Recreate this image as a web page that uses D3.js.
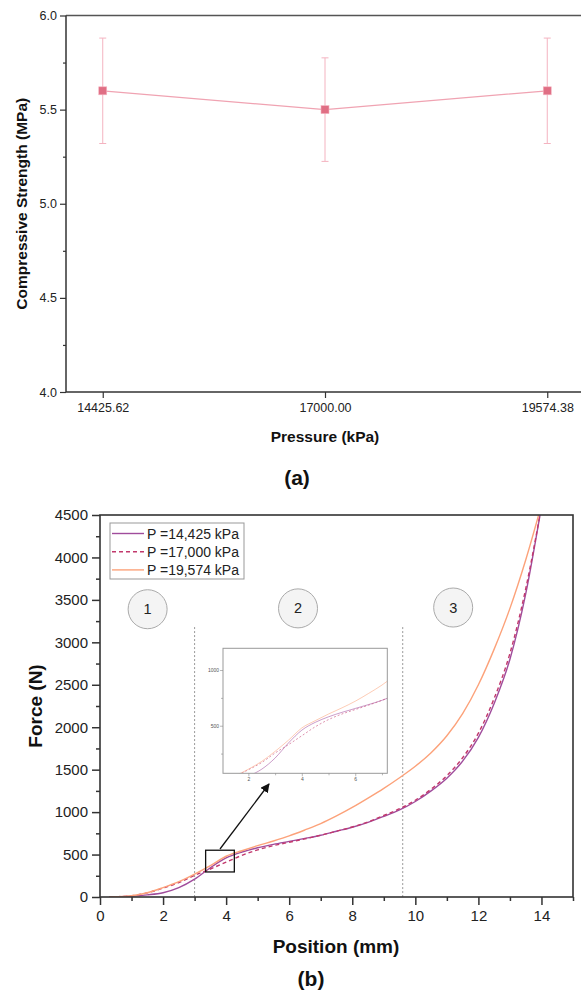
<!DOCTYPE html>
<html><head><meta charset="utf-8">
<script src="https://cdn.jsdelivr.net/npm/d3@7"></script>
<style>
body{margin:0;background:#fff}
svg{display:block;font-family:"Liberation Sans",Arial,sans-serif}
</style></head><body>
<svg id="c" width="581" height="993"></svg>
<script>
// ---------- data (a) ----------
const pressures = [14425.62, 17000.00, 19574.38];
const pressureLabels = ["14425.62", "17000.00", "19574.38"];
const strength = [5.60, 5.50, 5.60];
const strengthErr = [0.28, 0.275, 0.28];
const strengthTicks = [4.0, 4.5, 5.0, 5.5, 6.0];
const strengthMinorTicks = [4.25, 4.75, 5.25, 5.75];

// ---------- data (b) ----------
const position = [0.3, 0.5, 1, 1.5, 2, 2.5, 3, 3.5, 4, 4.5, 5, 5.5, 6, 6.5, 7, 7.5, 8, 8.5, 9, 9.5, 10, 10.5, 11, 11.5, 12, 12.5, 13, 13.5, 14];
const force14425 = [0, 2, 10, 25, 50, 110, 210, 345, 460, 530, 580, 620, 655, 690, 728, 775, 822, 880, 950, 1025, 1125, 1250, 1400, 1600, 1880, 2280, 2800, 3570, 4600];
const force17000 = [0, 3, 15, 48, 105, 170, 255, 330, 410, 490, 555, 605, 645, 685, 728, 775, 825, 885, 960, 1040, 1140, 1270, 1430, 1640, 1930, 2340, 2870, 3630, 4600];
const force19574 = [0, 3, 15, 50, 110, 180, 270, 370, 480, 545, 605, 660, 720, 790, 865, 955, 1055, 1165, 1280, 1405, 1540, 1700, 1900, 2160, 2500, 2920, 3400, 3970, 4620];
const seriesNames = ["P =14,425 kPa", "P =17,000 kPa", "P =19,574 kPa"];
const forceTicks = [0, 500, 1000, 1500, 2000, 2500, 3000, 3500, 4000, 4500];
const positionTicks = [0, 2, 4, 6, 8, 10, 12, 14];
const regionBounds = [3.0, 9.6];
const regionLabels = ["1", "2", "3"];
const insetXTicks = [2, 4, 6];
const insetYTicks = [500, 1000];

const svg = d3.select("#c");
const axisColor = "#333";

function styleAxis(g, fs) {
  g.select(".domain").remove();
  g.selectAll(".tick line").attr("stroke", axisColor).attr("stroke-width", 1.2);
  g.selectAll(".tick text").attr("fill", "#222").attr("font-size", fs).attr("font-family", '"Liberation Sans",Arial,sans-serif');
}

// ================= Chart (a) =================
{
  const x = d3.scaleLinear().domain([14000, 20000]).range([66, 584]);
  const y = d3.scaleLinear().domain([4, 6]).range([392, 15.5]);
  const g = svg.append("g");

  // frame
  g.append("line").attr("x1", 66).attr("x2", 581).attr("y1", y(6)).attr("y2", y(6)).attr("stroke", "#555").attr("stroke-width", 1.5);
  g.append("line").attr("x1", 66).attr("x2", 581).attr("y1", y(4)).attr("y2", y(4)).attr("stroke", axisColor).attr("stroke-width", 1.5);
  g.append("line").attr("x1", 66).attr("x2", 66).attr("y1", y(6)).attr("y2", y(4)).attr("stroke", axisColor).attr("stroke-width", 1.5);

  const ya = g.append("g").attr("transform", "translate(66,0)")
    .call(d3.axisLeft(y).tickValues(strengthTicks).tickSize(6).tickPadding(3).tickFormat(d3.format(".1f")));
  styleAxis(ya, 12.5);
  const ym = g.append("g").attr("transform", "translate(66,0)")
    .call(d3.axisLeft(y).tickValues(strengthMinorTicks).tickSize(3).tickFormat(""));
  styleAxis(ym, 12);

  const xa = g.append("g").attr("transform", `translate(0,${y(4)})`)
    .call(d3.axisBottom(x).tickValues(pressures).tickSize(6).tickPadding(5).tickFormat((d, i) => pressureLabels[i]));
  styleAxis(xa, 12.5);

  // line
  const pts = pressures.map((p, i) => [x(p), y(strength[i])]);
  g.append("path").attr("d", d3.line()(pts)).attr("fill", "none").attr("stroke", "#f0a3b2").attr("stroke-width", 1.2);

  // error bars
  pressures.forEach((p, i) => {
    const cx = x(p), t = y(strength[i] + strengthErr[i]), b = y(strength[i] - strengthErr[i]);
    g.append("line").attr("x1", cx).attr("x2", cx).attr("y1", t).attr("y2", b).attr("stroke", "#f4b3c0").attr("stroke-width", 1);
    [t, b].forEach(yy => g.append("line").attr("x1", cx - 3.5).attr("x2", cx + 3.5).attr("y1", yy).attr("y2", yy).attr("stroke", "#f4b3c0").attr("stroke-width", 1));
  });
  g.selectAll("rect.pt").data(pts).join("rect").attr("class", "pt")
    .attr("x", d => d[0] - 4).attr("y", d => d[1] - 4).attr("width", 8).attr("height", 8)
    .attr("fill", "#e06e84").attr("stroke", "#f5b5c2").attr("stroke-width", 0.6);

  g.append("text").attr("transform", `translate(27,${(y(4) + y(6)) / 2}) rotate(-90)`)
    .attr("text-anchor", "middle").attr("font-weight", "bold").attr("font-size", 15.5).attr("fill", "#111")
    .text("Compressive Strength (MPa)");
  g.append("text").attr("x", 325).attr("y", 442).attr("text-anchor", "middle")
    .attr("font-weight", "bold").attr("font-size", 15.5).attr("fill", "#111").text("Pressure (kPa)");
  g.append("text").attr("x", 297).attr("y", 485).attr("text-anchor", "middle")
    .attr("font-weight", "bold").attr("font-size", 21).attr("fill", "#111").text("(a)");
}

// ================= Chart (b) =================
{
  const x = d3.scaleLinear().domain([0, 15]).range([100, 573]);
  const y = d3.scaleLinear().domain([0, 4500]).range([897, 515]);
  const g = svg.append("g");
  const series = [
    { name: seriesNames[0], vals: force14425, color: "#a04c9c", dash: null, w: 1.4 },
    { name: seriesNames[1], vals: force17000, color: "#c2386c", dash: "4,3", w: 1.4 },
    { name: seriesNames[2], vals: force19574, color: "#fca27a", dash: null, w: 1.4 }
  ];

  svg.append("defs").append("clipPath").attr("id", "clipB").append("rect")
    .attr("x", 100).attr("y", 515).attr("width", 473).attr("height", 382);

  // region dividers
  regionBounds.forEach(b => {
    g.append("line").attr("x1", x(b)).attr("x2", x(b)).attr("y1", y(3180)).attr("y2", y(0))
      .attr("stroke", "#999").attr("stroke-width", 1).attr("stroke-dasharray", "2,2");
  });

  // curves
  const line = (sx, sy) => d3.line().curve(d3.curveMonotoneX).x((d, i) => sx(position[i])).y(d => sy(d));
  const cg = g.append("g").attr("clip-path", "url(#clipB)");
  series.forEach(s => {
    cg.append("path").attr("d", line(x, y)(s.vals)).attr("fill", "none").attr("stroke", s.color)
      .attr("stroke-width", s.w).attr("stroke-dasharray", s.dash);
  });

  // frame
  g.append("rect").attr("x", 100).attr("y", 515).attr("width", 473).attr("height", 382)
    .attr("fill", "none").attr("stroke", axisColor).attr("stroke-width", 1.6);

  const ya = g.append("g").attr("transform", "translate(100,0)")
    .call(d3.axisLeft(y).tickValues(forceTicks).tickSize(8).tickPadding(4).tickFormat(d3.format("d")));
  styleAxis(ya, 15);
  const ym = g.append("g").attr("transform", "translate(100,0)")
    .call(d3.axisLeft(y).tickValues(forceTicks.slice(0, -1).map(v => v + 250)).tickSize(4).tickFormat(""));
  styleAxis(ym, 12);
  const xa = g.append("g").attr("transform", "translate(0,897)")
    .call(d3.axisBottom(x).tickValues(positionTicks).tickSize(8).tickPadding(5).tickFormat(d3.format("d")));
  styleAxis(xa, 15);
  const xm = g.append("g").attr("transform", "translate(0,897)")
    .call(d3.axisBottom(x).tickValues(positionTicks.map(v => v + 1)).tickSize(4).tickFormat(""));
  styleAxis(xm, 12);
  g.selectAll(".tick line").attr("stroke-width", 1.5);

  // region circles
  const circlePos = [[1.51, 3390], [6.28, 3400], [11.2, 3410]];
  regionLabels.forEach((l, i) => {
    const cx = x(circlePos[i][0]), cy = y(circlePos[i][1]);
    g.append("circle").attr("cx", cx).attr("cy", cy).attr("r", 19.5).attr("fill", "#f4f4f4").attr("stroke", "#aaa").attr("stroke-width", 1);
    g.append("text").attr("x", cx).attr("y", cy + 5).attr("text-anchor", "middle").attr("font-size", 14.5).attr("fill", "#222").text(l);
  });

  // legend
  const lg = g.append("g");
  lg.append("rect").attr("x", 110).attr("y", 523).attr("width", 134).attr("height", 56)
    .attr("fill", "#fff").attr("stroke", "#999").attr("stroke-width", 1);
  series.forEach((s, i) => {
    const yy = 533.5 + i * 18.2;
    lg.append("line").attr("x1", 112).attr("x2", 144).attr("y1", yy).attr("y2", yy)
      .attr("stroke", s.color).attr("stroke-width", 1.4).attr("stroke-dasharray", s.dash);
    lg.append("text").attr("x", 147).attr("y", yy + 5).attr("font-size", 14).attr("fill", "#222").text(s.name);
  });

  // zoom rectangle + arrow
  g.append("rect").attr("x", x(3.35)).attr("y", y(551)).attr("width", x(4.26) - x(3.35)).attr("height", y(295) - y(551))
    .attr("fill", "none").attr("stroke", "#111").attr("stroke-width", 1.3);
  const defs = svg.select("defs");
  defs.append("marker").attr("id", "ah").attr("viewBox", "0 0 10 10").attr("refX", 9).attr("refY", 5)
    .attr("markerWidth", 7).attr("markerHeight", 7).attr("orient", "auto")
    .append("path").attr("d", "M0,0 L10,5 L0,10 Z").attr("fill", "#111");
  g.append("line").attr("x1", 220).attr("y1", 849).attr("x2", 269).attr("y2", 784)
    .attr("stroke", "#111").attr("stroke-width", 1.3).attr("marker-end", "url(#ah)");

  // inset
  const ix = d3.scaleLinear().domain([1.05, 7.2]).range([223, 387.3]);
  const iy = d3.scaleLinear().domain([73, 1195]).range([773.3, 648.3]);
  defs.append("clipPath").attr("id", "clipI").append("rect").attr("x", 223).attr("y", 648.3).attr("width", 164.3).attr("height", 125);
  const ig = g.append("g");
  ig.append("rect").attr("x", 223).attr("y", 648.3).attr("width", 164.3).attr("height", 125).attr("fill", "#fff");
  const icg = ig.append("g").attr("clip-path", "url(#clipI)");
  series.forEach(s => {
    icg.append("path").attr("d", line(ix, iy)(s.vals)).attr("fill", "none").attr("stroke", s.color)
      .attr("stroke-opacity", 0.55).attr("stroke-width", 1).attr("stroke-dasharray", s.dash ? "2,2" : null);
  });
  ig.append("rect").attr("x", 223).attr("y", 648.3).attr("width", 164.3).attr("height", 125)
    .attr("fill", "none").attr("stroke", "#999").attr("stroke-width", 1);
  const iya = ig.append("g").attr("transform", "translate(223,0)")
    .call(d3.axisLeft(iy).tickValues(insetYTicks).tickSize(3).tickPadding(1).tickFormat(d3.format("d")));
  styleAxis(iya, 5);
  const iym = ig.append("g").attr("transform", "translate(223,0)")
    .call(d3.axisLeft(iy).tickValues([250, 750]).tickSize(2).tickFormat(""));
  styleAxis(iym, 5);
  const ixa = ig.append("g").attr("transform", "translate(0,773.3)")
    .call(d3.axisBottom(ix).tickValues(insetXTicks).tickSize(3).tickPadding(1).tickFormat(d3.format("d")));
  styleAxis(ixa, 5);
  const ixm = ig.append("g").attr("transform", "translate(0,773.3)")
    .call(d3.axisBottom(ix).tickValues([3, 5, 7]).tickSize(2).tickFormat(""));
  styleAxis(ixm, 5);
  ig.selectAll(".tick line").attr("stroke", "#888").attr("stroke-width", 0.6);
  ig.selectAll(".tick text").attr("fill", "#555");

  g.append("text").attr("transform", `translate(42,706) rotate(-90)`).attr("text-anchor", "middle")
    .attr("font-weight", "bold").attr("font-size", 19).attr("fill", "#111").text("Force (N)");
  g.append("text").attr("x", 336).attr("y", 953).attr("text-anchor", "middle")
    .attr("font-weight", "bold").attr("font-size", 19).attr("fill", "#111").text("Position (mm)");
  g.append("text").attr("x", 311).attr("y", 986).attr("text-anchor", "middle")
    .attr("font-weight", "bold").attr("font-size", 21).attr("fill", "#111").text("(b)");
}
</script>
</body></html>
